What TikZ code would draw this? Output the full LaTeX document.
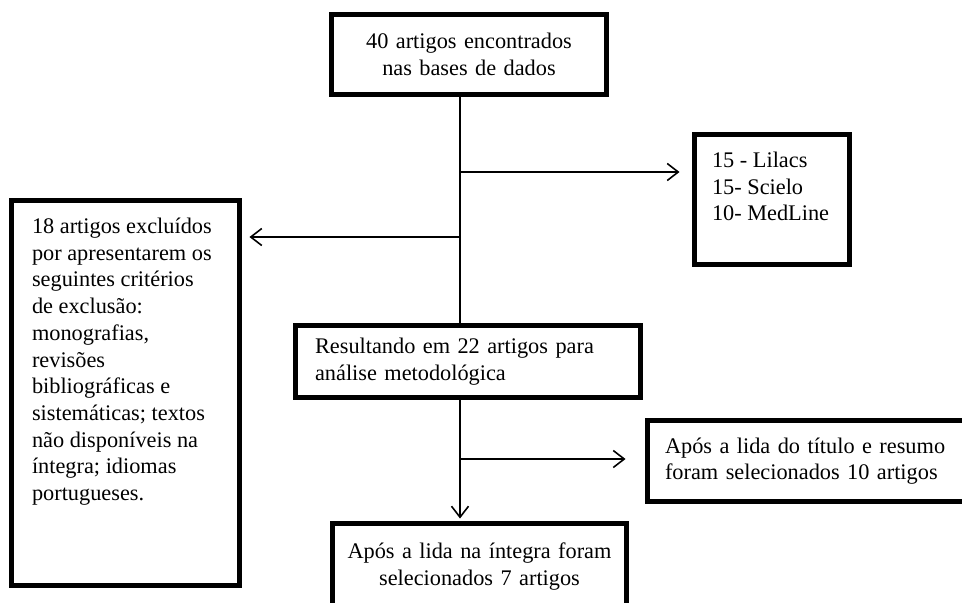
\documentclass[tikz,border=0pt]{standalone}
\usepackage{fontspec}
\setmainfont{Liberation Serif}
\usetikzlibrary{arrows.meta,calc}

\begin{document}
\begin{tikzpicture}[x=0.02cm,y=-0.02cm,
  font=\fontsize{12.7pt}{15.2pt}\selectfont,
  box/.style={draw,line width=0.1cm,inner ysep=0.1cm},
  line/.style={line width=0.9pt},
  link/.style={line width=0.9pt,-{Straight Barb[length=2.2mm,width=3.4mm]}}]
  \useasboundingbox (0,0) rectangle (962,602);
  \node[box,minimum width=5.5cm,minimum height=1.6cm,text width=5cm,align=center] (src) at (469,54.5) {40 artigos encontrados\\nas bases de dados};
  \node[box,minimum width=3.1cm,minimum height=2.6cm,inner xsep=0.35cm,inner ysep=0.35cm] (bases) at (772,199.5) {\parbox[b][1.9cm][t]{2.4cm}{\raggedright 15 - Lilacs\\15- Scielo\\10- MedLine}};
  \node[box,minimum width=4.56cm,minimum height=7.7cm,inner xsep=0.41cm,inner ysep=0.35cm] (excl) at (125.5,393) {\parbox[b][7cm][t]{3.74cm}{\raggedright 18 artigos excluídos\\por apresentarem os\\seguintes critérios\\de exclusão:\\monografias,\\revisões\\bibliográficas e\\sistemáticas; textos\\não disponíveis na\\íntegra; idiomas\\portugueses.}};
  \node[box,minimum width=6.9cm,minimum height=1.44cm,inner xsep=0.39cm,text width=6.12cm,align=left] (res) at (468,361.5) {Resultando em 22 artigos para\\análise metodológica};
  \node[box,minimum width=6.4cm,minimum height=1.62cm,inner xsep=0.35cm,text width=5.7cm,align=left] (sel) at (807.5,461) {Após a lida do título e resumo\\foram selecionados 10 artigos};
  \node[box,minimum width=5.88cm,minimum height=1.72cm,text width=5.4cm,align=center] (fin) at (479.5,566.5) {Após a lida na íntegra foram\\selecionados 7 artigos};
  \coordinate (trunk) at (460,0);
  \coordinate (b1) at (460,172);
  \coordinate (b2) at (460,237);
  \coordinate (b3) at (460,459);
  \draw[line] (src.south -| trunk) -- (res.north -| trunk);
  \draw[link,shorten >=0.25cm] (b1) -- (b1 -| bases.west);
  \draw[link,shorten >=0.15cm] (b2) -- (b2 -| excl.east);
  \draw[link,shorten >=0.05cm] (res.south -| trunk) -- (fin.north -| trunk);
  \draw[link,shorten >=0.39cm] (b3) -- (b3 -| sel.west);
\end{tikzpicture}
\end{document}
